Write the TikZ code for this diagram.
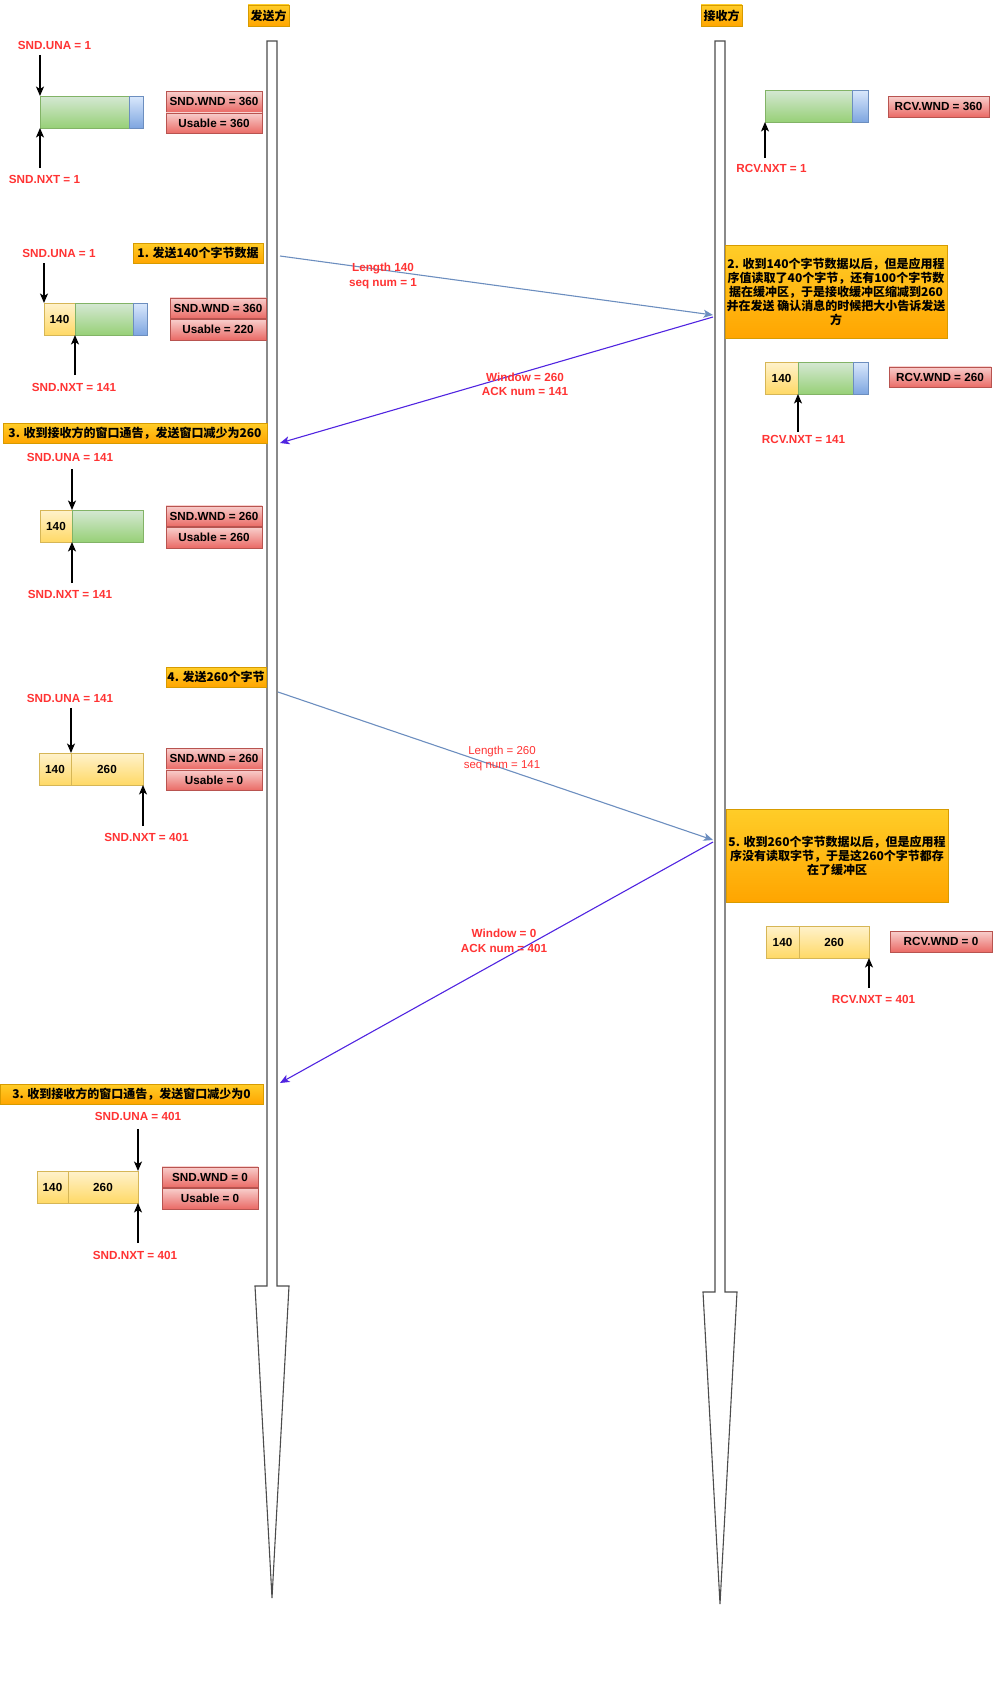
\documentclass[tikz,border=0pt]{standalone}
\usepackage{fontspec}
\setmainfont{Liberation Sans}
\newfontfamily\cjk{Noto Sans CJK SC}
\usetikzlibrary{positioning,arrows.meta}

\definecolor{lblred}{HTML}{FF3333}
\definecolor{wndtop}{HTML}{F8CECC}
\definecolor{wndbot}{HTML}{EA6B66}
\definecolor{wndline}{HTML}{B85450}
\definecolor{grntop}{HTML}{D5E8D4}
\definecolor{grnbot}{HTML}{97D077}
\definecolor{grnline}{HTML}{82B366}
\definecolor{blutop}{HTML}{DAE8FC}
\definecolor{blubot}{HTML}{7EA6E0}
\definecolor{bluline}{HTML}{6C8EBF}
\definecolor{ylwtop}{HTML}{FFF2CC}
\definecolor{ylwbot}{HTML}{FFD966}
\definecolor{ylwline}{HTML}{D6B656}
\definecolor{orgtop}{HTML}{FFCD28}
\definecolor{orgbot}{HTML}{FFA500}
\definecolor{orgline}{HTML}{D79B00}
\definecolor{acklin}{RGB}{80,36,224}

\begin{document}
\begin{tikzpicture}[
  x=1pt, y=-1pt, >={Stealth[length=9.5pt,width=8pt,inset=2.5pt]},
  lbl/.style={font=\bfseries\fontsize{11.7}{14.5}\selectfont, text=lblred, inner sep=0pt, align=center},
  lblthin/.style={lbl, font=\fontsize{11.5}{14}\selectfont},
  wnd/.style={draw=wndline, top color=wndtop, bottom color=wndbot, minimum height=20.5pt,
    inner sep=0pt, outer sep=0pt, font=\bfseries\fontsize{11.7}{13}\selectfont},
  seg/.style={minimum height=32pt, inner sep=0pt, outer sep=0pt, font=\bfseries\fontsize{11.7}{13}\selectfont},
  grn/.style={seg, draw=grnline, top color=grntop, bottom color=grnbot},
  blu/.style={seg, draw=bluline, top color=blutop, bottom color=blubot},
  ylw/.style={seg, draw=ylwline, top color=ylwtop, bottom color=ylwbot},
  note/.style={draw=orgline, top color=orgtop, bottom color=orgbot, inner sep=0pt, align=center,
    minimum height=20pt, font=\cjk\bfseries\fontsize{12}{14}\selectfont},
  ptr/.style={->, line width=1.2pt},
  data/.style={->, draw=bluline, line width=1.1pt},
  ack/.style={->, draw=acklin, line width=1.1pt},
  shaft/.style={draw=black!70, fill=white, line width=1.1pt},
]
\useasboundingbox (0,0) rectangle (995,1694);

% ---- time lines ----
\draw[shaft] (267,41) -- (277,41) -- (277,1286) -- (289,1286) -- (272,1598)
  -- (255,1286) -- (267,1286) -- cycle;
\draw[shaft] (715,41) -- (725,41) -- (725,1292) -- (737,1292) -- (720,1604)
  -- (703,1292) -- (715,1292) -- cycle;
\node[note, minimum width=41pt, minimum height=21pt] (snd) at (268.5,15.5) {发送方};
\node[note, minimum width=41pt, minimum height=21pt] (rcv) at (721.5,15.5) {接收方};

% ---- sender, initial ----
\node[grn, minimum width=89pt, anchor=north west] (b1g) at (40,96) {};
\node[blu, minimum width=14pt, right=0pt of b1g] (b1b) {};
\node[lbl] (una1) at (54.5,45.5) {SND.UNA = 1};
\node[lbl] (nxt1) at (44.5,179.5) {SND.NXT = 1};
\draw[ptr, shorten <=5pt] (una1.south -| b1g.north west) -- (b1g.north west);
\draw[ptr, shorten <=7pt] (nxt1.north -| b1g.south west) -- (b1g.south west);
\node[wnd, minimum width=96pt] (wnd1) at (214,101.5) {SND.WND = 360};
\node[wnd, minimum width=96pt, below=1pt of wnd1] (use1) {Usable = 360};

% ---- receiver, initial ----
\node[grn, minimum width=87pt, anchor=north west] (r1g) at (765,90) {};
\node[blu, minimum width=16pt, right=0pt of r1g] (r1b) {};
\node[lbl] (rnxt1) at (771.5,168.5) {RCV.NXT = 1};
\draw[ptr, shorten <=6pt] (rnxt1.north -| r1g.south west) -- (r1g.south west);
\node[wnd, minimum width=101pt] (rwnd1) at (938.5,106.5) {RCV.WND = 360};

% ---- step 1: send 140 ----
\node[note, minimum width=130pt] (st1) at (198,253) {1. 发送140个字节数据};
\node[ylw, minimum width=31pt, anchor=north west] (b2y) at (44,303) {140};
\node[grn, minimum width=58pt, right=0pt of b2y] (b2g) {};
\node[blu, minimum width=14pt, right=0pt of b2g] (b2b) {};
\node[lbl] (una2) at (59,253) {SND.UNA = 1};
\node[lbl] (nxt2) at (74,387.5) {SND.NXT = 141};
\draw[ptr, shorten <=6pt] (una2.south -| b2y.north west) -- (b2y.north west);
\draw[ptr, shorten <=8pt] (nxt2.north -| b2y.south east) -- (b2y.south east);
\node[wnd, minimum width=96pt] (wnd2) at (218,308) {SND.WND = 360};
\node[wnd, minimum width=96pt, below=1pt of wnd2] (use2) {Usable = 220};

\coordinate (d1s) at (280,256);
\coordinate (d1e) at (713,315);
\draw[data] (d1s) -- (d1e);
\node[lbl] (msg1) at (383,276) {Length 140\\seq num = 1};

% ---- step 2: receiver reads 40 ----
\node[note, minimum width=222pt, minimum height=93pt] (st2) at (836,291.5)
  {2. 收到140个字节数据以后，但是应用程\\序值读取了40个字节，还有100个字节数\\据在缓冲区，于是接收缓冲区缩减到260\\并在发送 确认消息的时候把大小告诉发送\\方};
\node[ylw, minimum width=33pt, anchor=north west] (r2y) at (765,362) {140};
\node[grn, minimum width=55pt, right=0pt of r2y] (r2g) {};
\node[blu, minimum width=15pt, right=0pt of r2g] (r2b) {};
\node[lbl] (rnxt2) at (803.5,439.5) {RCV.NXT = 141};
\draw[ptr, shorten <=3pt] (rnxt2.north -| r2y.south east) -- (r2y.south east);
\node[wnd, minimum width=102pt] (rwnd2) at (940,377) {RCV.WND = 260};

\coordinate (a1s) at (713,317);
\coordinate (a1e) at (280,443);
\draw[ack] (a1s) -- (a1e);
\node[lbl] (msg2) at (525,384.5) {Window = 260\\ACK num = 141};

% ---- step 3: window 260 ----
\node[note, minimum width=264pt] (st3) at (135,433) {3. 收到接收方的窗口通告，发送窗口减少为260};
\node[ylw, minimum width=32pt, anchor=north west] (b3y) at (40,510) {140};
\node[grn, minimum width=71pt, right=0pt of b3y] (b3g) {};
\node[lbl] (una3) at (70,457) {SND.UNA = 141};
\node[lbl] (nxt3) at (70,594.5) {SND.NXT = 141};
\draw[ptr, shorten <=8pt] (una3.south -| b3y.north east) -- (b3y.north east);
\draw[ptr, shorten <=7pt] (nxt3.north -| b3y.south east) -- (b3y.south east);
\node[wnd, minimum width=96pt] (wnd3) at (214,516) {SND.WND = 260};
\node[wnd, minimum width=96pt, below=1pt of wnd3] (use3) {Usable = 260};

% ---- step 4: send 260 ----
\node[note, minimum width=100pt] (st4) at (216,677) {4. 发送260个字节};
\node[ylw, minimum width=32pt, anchor=north west] (b4y) at (39,753) {140};
\node[ylw, minimum width=72pt, right=0pt of b4y] (b4z) {260};
\node[lbl] (una4) at (70,698.5) {SND.UNA = 141};
\node[lbl] (nxt4) at (146.5,837.5) {SND.NXT = 401};
\draw[ptr, shorten <=5pt] (una4.south -| b4y.north east) -- (b4y.north east);
\draw[ptr, shorten <=7pt] (nxt4.north -| b4z.south east) -- (b4z.south east);
\node[wnd, minimum width=96pt] (wnd4) at (214,758.5) {SND.WND = 260};
\node[wnd, minimum width=96pt, below=1pt of wnd4] (use4) {Usable = 0};

\coordinate (d2s) at (278,692);
\coordinate (d2e) at (713,840);
\draw[data] (d2s) -- (d2e);
\node[lblthin] (msg3) at (502,759) {Length = 260\\seq num = 141};

% ---- step 5: receiver reads nothing ----
\node[note, minimum width=222pt, minimum height=93pt] (st5) at (837,855.5)
  {5. 收到260个字节数据以后，但是应用程\\序没有读取字节，于是这260个字节都存\\在了缓冲区};
\node[ylw, minimum width=33pt, anchor=north west] (r3y) at (766,926) {140};
\node[ylw, minimum width=70pt, right=0pt of r3y] (r3z) {260};
\node[lbl] (rnxt3) at (873.5,999.5) {RCV.NXT = 401};
\draw[ptr, shorten <=7pt] (rnxt3.north -| r3z.south east) -- (r3z.south east);
\node[wnd, minimum width=102pt] (rwnd3) at (941,941.5) {RCV.WND = 0};

\coordinate (a2s) at (713,842);
\coordinate (a2e) at (280,1083);
\draw[ack] (a2s) -- (a2e);
\node[lbl] (msg4) at (504,941) {Window = 0\\ACK num = 401};

% ---- step 3 again: window 0 ----
\node[note, minimum width=263pt] (st6) at (131.5,1094) {3. 收到接收方的窗口通告，发送窗口减少为0};
\node[ylw, minimum width=31pt, anchor=north west] (b5y) at (37,1171) {140};
\node[ylw, minimum width=70pt, right=0pt of b5y] (b5z) {260};
\node[lbl] (una5) at (138,1116.5) {SND.UNA = 401};
\node[lbl] (nxt5) at (135,1255.5) {SND.NXT = 401};
\draw[ptr, shorten <=8pt] (una5.south -| b5z.north east) -- (b5z.north east);
\draw[ptr, shorten <=8pt] (nxt5.north -| b5z.south east) -- (b5z.south east);
\node[wnd, minimum width=96pt] (wnd5) at (210,1177) {SND.WND = 0};
\node[wnd, minimum width=96pt, below=1pt of wnd5] (use5) {Usable = 0};
\end{tikzpicture}
\end{document}
